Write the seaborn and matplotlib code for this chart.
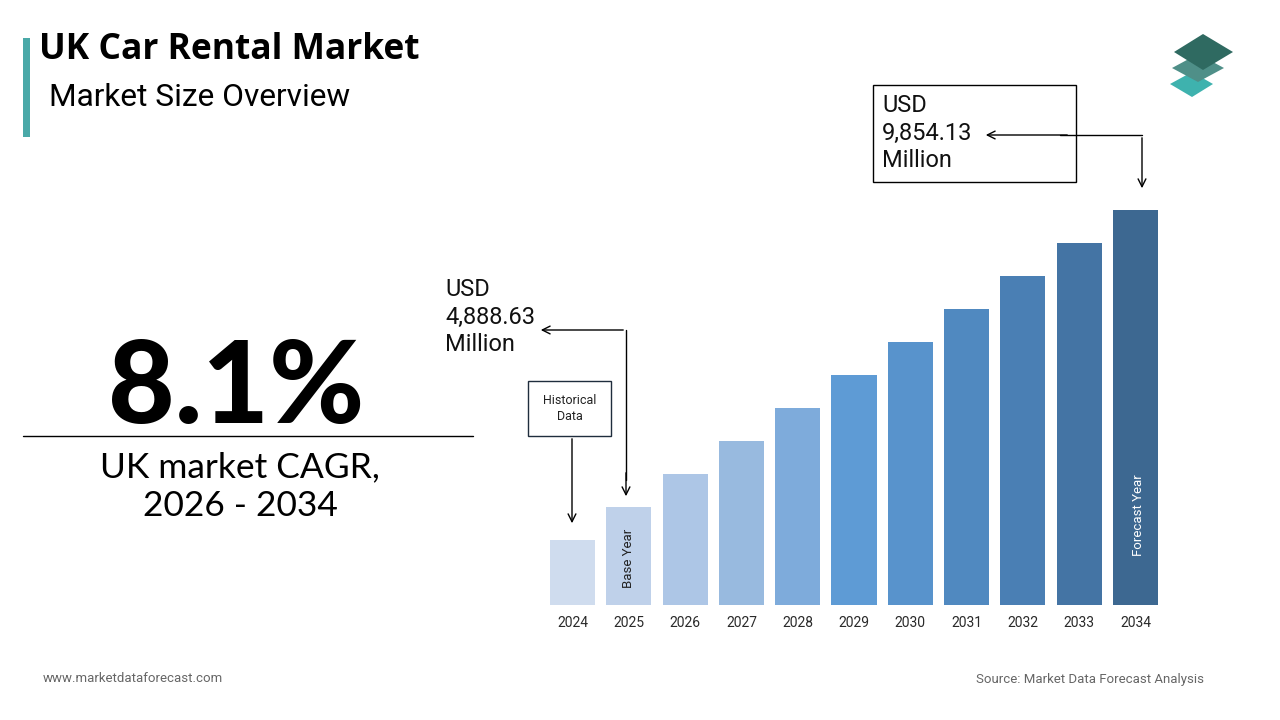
import numpy as np
import pandas as pd
import matplotlib
matplotlib.use("Agg")
import matplotlib.pyplot as plt
from matplotlib.patches import Polygon, Rectangle
import seaborn as sns

# bar data (relative heights as drawn; the chart has no value axis)
years = ["2024", "2025", "2026", "2027", "2028", "2029",
         "2030", "2031", "2032", "2033", "2034"]
heights = [65, 98, 131, 164, 197, 230, 263, 296, 329, 362, 395]
bar_colors = ["#cfdcee", "#bfd1ea", "#adc6e6", "#98badf", "#7eabdb", "#5e9bd5",
              "#5893cc", "#5089c0", "#4a7fb4", "#4474a4", "#3d6891"]
base_value = "4,888.63"
final_value = "9,854.13"
cagr = "8.1%"

sns.set_theme(style="white")
plt.rcParams["font.family"] = ["Roboto", "DejaVu Sans"]

df = pd.DataFrame({"year": years, "size": heights})

W, H = 1280, 720
fig = plt.figure(figsize=(12.8, 7.2), dpi=100)

# bar axes placed in pixel terms: baseline y=605, 56.3 px per category
pitch = 56.3
left = 572.5 - pitch / 2
ax = fig.add_axes([left / W, (H - 605) / H, pitch * 11 / W, 400 / H])
sns.barplot(data=df, x="year", y="size", hue="year", palette=bar_colors,
            legend=False, width=0.8, saturation=1, linewidth=0, ax=ax)
ax.set_ylim(0, 400)
ax.set_xlim(-0.5, 10.5)
ax.set_xlabel("")
ax.set_ylabel("")
ax.set_yticks([])
ax.tick_params(axis="x", length=0, pad=8, labelsize=10, labelcolor="#2a2a2a")
sns.despine(ax=ax, left=True, bottom=True)

ax.text(1, 17, "Base Year", rotation=90, ha="center", va="bottom",
        fontsize=9.5, color="#222222")
ax.text(10.05, 90, "Forecast Year", rotation=90, ha="center", va="center",
        fontsize=9.5, color="white")

# overlay for decoration in pixel coords
ov = fig.add_axes([0, 0, 1, 1], zorder=5)
ov.set_xlim(0, W)
ov.set_ylim(H, 0)
ov.axis("off")

ov.add_patch(Rectangle((23, 38), 7, 99, color="#4aa9a8", lw=0))
ov.text(39, 50, "UK Car Rental Market", fontsize=25.5, fontweight="bold",
        family="Open Sans", va="center", color="black")
ov.text(49, 98, "Market Size Overview", fontsize=22.8, va="center", color="black")

# logo
ov.add_patch(Polygon([(1170, 84), (1192, 72), (1213, 84), (1192, 97)],
                     closed=True, color="#3eb2ae", lw=0))
ov.add_patch(Polygon([(1172, 68), (1198, 54), (1224, 68), (1198, 82)],
                     closed=True, color="#4f8f88", lw=0))
ov.add_patch(Polygon([(1174, 52), (1203, 34), (1233, 52), (1203, 70)],
                     closed=True, color="#2f6a61", lw=0))

# left KPI block
ov.text(236, 390, cagr, fontsize=83, fontweight=900, family="Lato",
        ha="center", va="center", color="black")
ov.plot([23, 473], [436, 436], color="black", lw=1)
ov.text(240, 467, "UK market CAGR,", fontsize=25.5, ha="center", va="center",
        family="Lato", color="black")
ov.text(240, 506, "2026 - 2034", fontsize=25.5, ha="center", va="center",
        family="Lato", color="black")

# historical data callout
ov.add_patch(Rectangle((528, 381), 83, 55, fill=False, ec="#1f2d3d", lw=1))
ov.text(569.5, 408.5, "Historical\nData", ha="center", va="center",
        fontsize=9, color="#222222", linespacing=1.3)
ov.annotate("", xy=(572, 526), xytext=(572, 436),
            arrowprops=dict(arrowstyle="->", color="black", lw=1,
                            mutation_scale=14))

# base year callout
ov.text(445, 317, "USD\n" + base_value + "\nMillion", fontsize=17,
        va="center", ha="left", linespacing=1.26, color="#111111")
ov.plot([626, 626], [330, 480], color="black", lw=1)
ov.annotate("", xy=(538, 330), xytext=(626, 330),
            arrowprops=dict(arrowstyle="->", color="black", lw=1,
                            mutation_scale=14))
ov.annotate("", xy=(626, 499), xytext=(626, 470),
            arrowprops=dict(arrowstyle="->", color="black", lw=1,
                            mutation_scale=14))

# final year callout
ov.add_patch(Rectangle((873, 85), 203, 97, fill=False, ec="black", lw=1))
ov.text(882, 133, "USD\n" + final_value + "\nMillion", fontsize=17,
        va="center", ha="left", linespacing=1.26, color="#111111")
ov.plot([1060, 1142], [135, 135], color="black", lw=1)
ov.annotate("", xy=(983, 135), xytext=(1070, 135),
            arrowprops=dict(arrowstyle="->", color="black", lw=1,
                            mutation_scale=14))
ov.annotate("", xy=(1142, 191), xytext=(1142, 135),
            arrowprops=dict(arrowstyle="->", color="black", lw=1,
                            mutation_scale=14))

# footer
ov.text(43, 679, "www.marketdataforecast.com", fontsize=9.5, color="#666666",
        va="center")
ov.text(1204, 679, "Source: Market Data Forecast Analysis", fontsize=9.5,
        color="#666666", va="center", ha="right")

fig.savefig("out.png", dpi=100)
